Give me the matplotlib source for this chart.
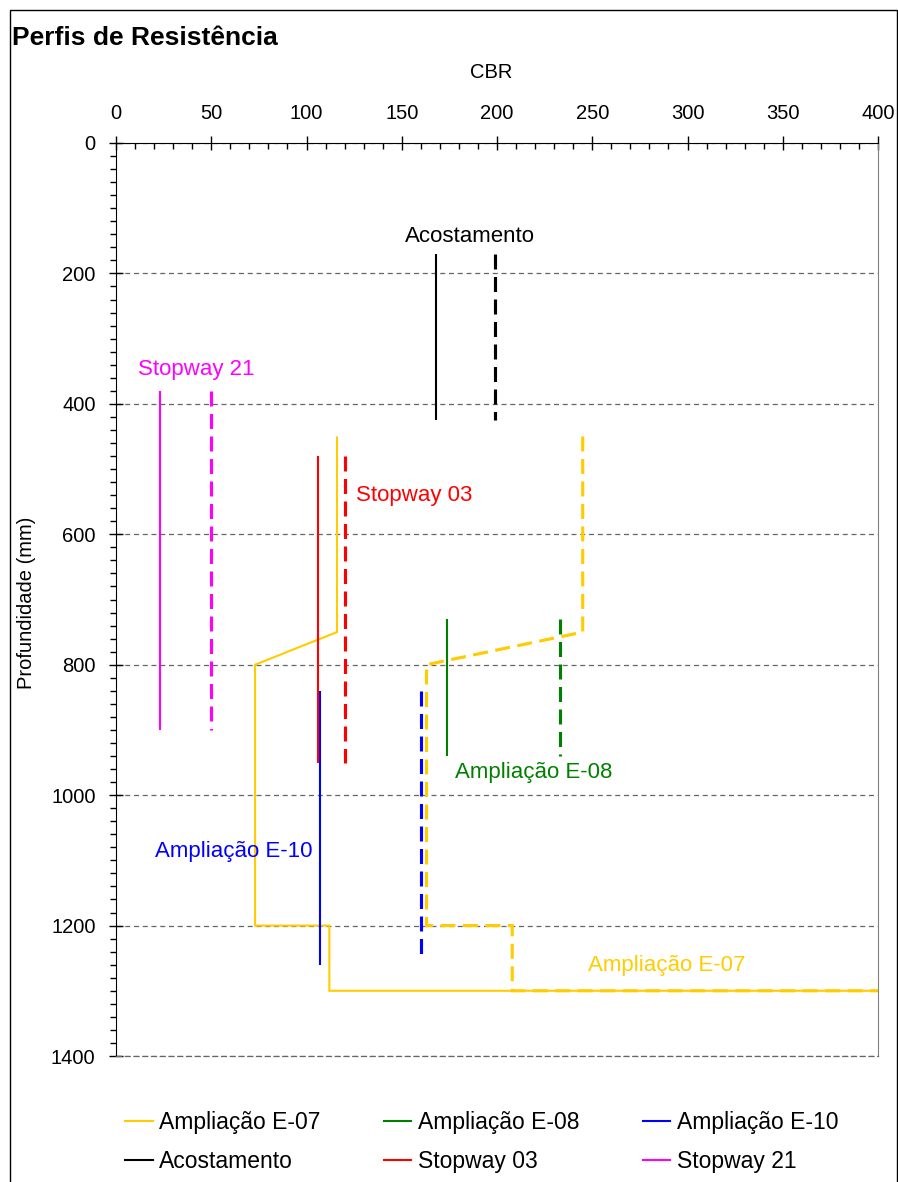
import matplotlib
matplotlib.use("Agg")
import matplotlib.pyplot as plt
from matplotlib.patches import Rectangle
from matplotlib.lines import Line2D
from matplotlib.ticker import MultipleLocator

plt.rcParams['font.family'] = ['Liberation Sans', 'DejaVu Sans']

# CBR profiles: (CBR values, depth in mm) for each test location
e07_cbr_a = [116, 116, 73, 73, 112, 112, 400]
e07_cbr_b = [245, 245, 163, 163, 208, 208, 400]
e07_depth = [450, 750, 800, 1200, 1200, 1300, 1300]

e08_cbr_a = [174, 174]
e08_cbr_b = [233, 233]
e08_depth = [730, 940]

e10_cbr_a = [107, 107]
e10_depth_a = [840, 1260]
e10_cbr_b = [160, 160]
e10_depth_b = [840, 1250]

acost_cbr_a = [168, 168]
acost_cbr_b = [199, 199]
acost_depth = [170, 425]

sw03_cbr_a = [106, 106]
sw03_cbr_b = [120, 120]
sw03_depth = [480, 950]

sw21_cbr_a = [23, 23]
sw21_cbr_b = [50, 50]
sw21_depth = [380, 900]

series_names = ["Ampliação E-07", "Ampliação E-08", "Ampliação E-10",
                "Acostamento", "Stopway 03", "Stopway 21"]
series_colors = ["#FFCC00", "#008000", "#0000FF", "#000000", "#FF0000", "#FF00FF"]

# annotation text positions (CBR, depth)
label_x = [289, 219.5, 62, 186, 156.5, 42]
label_y = [1261, 965, 1087, 144, 540, 347]

x_ticks = [0, 50, 100, 150, 200, 250, 300, 350, 400]
y_ticks = [0, 200, 400, 600, 800, 1000, 1200, 1400]

W, H = 898, 1182
fig = plt.figure(figsize=(W / 100, H / 100), dpi=100)
ax = fig.add_axes([116 / W, 1 - 1056 / H, (878 - 116) / W, (1056 - 143) / H])

solid_kw = dict(lw=1.5, solid_capstyle='butt', solid_joinstyle='miter')
dash_kw = dict(lw=2.25, dashes=(4.8, 2.4), dash_capstyle='butt', dash_joinstyle='miter')

profiles = [
    (e07_cbr_a, e07_depth, e07_cbr_b, e07_depth),
    (e08_cbr_a, e08_depth, e08_cbr_b, e08_depth),
    (e10_cbr_a, e10_depth_a, e10_cbr_b, e10_depth_b),
    (acost_cbr_a, acost_depth, acost_cbr_b, acost_depth),
    (sw03_cbr_a, sw03_depth, sw03_cbr_b, sw03_depth),
    (sw21_cbr_a, sw21_depth, sw21_cbr_b, sw21_depth),
]
for (xa, ya, xb, yb), col in zip(profiles, series_colors):
    ax.plot(xa, ya, color=col, zorder=3, **solid_kw)
    ax.plot(xb, yb, color=col, zorder=3, **dash_kw)

for name, col, lx, ly in zip(series_names, series_colors, label_x, label_y):
    ax.text(lx, ly, name, color=col, fontsize=16, ha='center', va='center', zorder=4)

ax.set_xlim(0, 400)
ax.set_ylim(1400, 0)
ax.xaxis.tick_top()
ax.set_xticks(x_ticks)
ax.set_yticks(y_ticks)
ax.xaxis.set_minor_locator(MultipleLocator(10))
ax.yaxis.set_minor_locator(MultipleLocator(20))
ax.tick_params(axis='x', which='major', direction='inout', length=9.5, width=1,
               labelsize=14.5, pad=10)
ax.tick_params(axis='x', which='minor', direction='in', length=4.3, width=1)
ax.tick_params(axis='y', which='major', direction='inout', length=9.5, width=1,
               labelsize=14.5, pad=10)
ax.tick_params(axis='y', which='minor', direction='out', length=4.3, width=1)

ax.yaxis.grid(True, which='major', color='#666666', lw=0.9, dashes=(4, 3), zorder=1)
ax.set_axisbelow(True)

ax.spines['top'].set_color('black')
ax.spines['left'].set_color('black')
ax.spines['right'].set_color('#808080')
ax.spines['bottom'].set_color('#666666')
ax.spines['bottom'].set_linewidth(0.9)
ax.spines['bottom'].set_linestyle((0, (4, 3)))

fig.text(12 / W, 1 - 38 / H, "Perfis de Resistência", fontsize=19, fontweight='bold',
         ha='left', va='center')
fig.text(491 / W, 1 - 73 / H, "CBR", fontsize=14.5, ha='center', va='center')
fig.text(27 / W, 1 - 603 / H, "Profundidade (mm)", fontsize=14.5, rotation=90,
         ha='center', va='center')

# legend filled row by row (matplotlib fills columns first)
order = [0, 3, 1, 4, 2, 5]
handles = [Line2D([], [], color=series_colors[i], lw=1.5) for i in order]
labels = [series_names[i] for i in order]
fig.legend(handles, labels, ncol=3, loc='upper left',
           bbox_to_anchor=(125 / W, 1 - 1111 / H), frameon=False, fontsize=16.5,
           handlelength=1.2, handletextpad=0.3, columnspacing=2.75,
           labelspacing=0.68, borderaxespad=0, borderpad=0)

# chart border
fig.patches.append(Rectangle((10 / W, -0.01), (897 - 10) / W, 1 - 10 / H + 0.01,
                             transform=fig.transFigure, fill=False,
                             edgecolor='black', lw=1))

fig.savefig("out.png", dpi=100)
